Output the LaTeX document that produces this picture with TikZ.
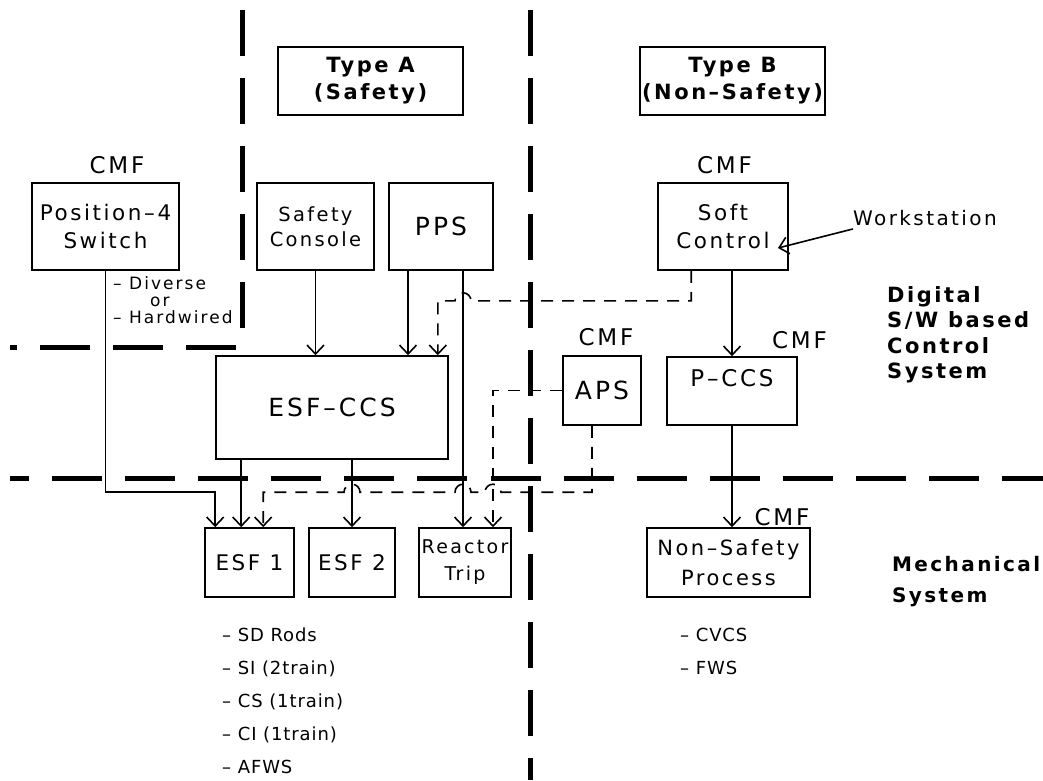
\documentclass[tikz,border=0pt]{standalone}
\usepackage{fontspec}
\setmainfont{DejaVu Sans}[LetterSpace=12]
\newfontfamily\listfont{DejaVu Sans}[LetterSpace=5]
\usetikzlibrary{arrows.meta,calc}
\begin{document}
\begin{tikzpicture}[x=1pt,y=1pt,
  blk/.style={draw, line width=1.6pt, inner sep=0pt, align=center},
  conn/.style={line width=1.6pt},
  arr/.style={conn, -{Straight Barb[length=9pt,width=17pt]}},
  dsh/.style={dash pattern=on 12pt off 9pt},
  hv/.style={line width=5pt, dash pattern=on 46pt off 22pt},
  hh/.style={line width=5pt, dash pattern=on 50pt off 23.08pt},
  lbl/.style={inner sep=0pt},
  fa/.style={font=\fontsize{21.5}{28}\selectfont},
  fb/.style={font=\fontsize{23}{28}\selectfont},
  fc/.style={font=\fontsize{25}{28}\selectfont},
  ftitle/.style={font=\bfseries\fontsize{21}{27}\selectfont},
  flist/.style={font=\listfont\fontsize{18}{33}\selectfont},
]
\fill[white] (0,0) rectangle (1043,-780);
\useasboundingbox (0,0) rectangle (1043,-780);

% heavy division lines
\draw[hv] (242,-10) -- (242,-331);
\draw[hv] (530,-10) -- (530,-780);
\draw[hh, dash phase=43pt] (10,-347) -- (237.5,-347);
\draw[hh, dash phase=31pt] (10,-478) -- (1043,-478);

% titles
\node[blk, minimum width=185pt, minimum height=68pt, ftitle] (typeA) at (370.5,-81) {Type A\\(Safety)};
\node[blk, minimum width=185pt, minimum height=68pt, ftitle] (typeB) at (732.5,-81) {Type B\\(Non–Safety)};

% upper row
\node[lbl, fb] (cmf1) at (117,-165.5) {CMF};
\node[blk, minimum width=147pt, minimum height=87pt, fa] (psw) at (105.5,-226.5) {Position–4\\Switch};
\node[blk, minimum width=117pt, minimum height=87pt, font=\fontsize{19.5}{25}\selectfont] (ssc) at (315.5,-226.5) {Safety\\Console};
\node[blk, minimum width=104pt, minimum height=87pt, fc] (pps) at (441,-226.5) {PPS};
\node[lbl, fb] (cmf2) at (724.5,-165.5) {CMF};
\node[blk, minimum width=130pt, minimum height=87pt, fa] (soft) at (723,-226.5) {Soft\\Control};
\node[lbl, anchor=west, font=\fontsize{20}{20}\selectfont] (ws) at (853,-218) {Workstation};
\coordinate (wsend) at (778,-248);

% middle row
\node[blk, minimum width=232pt, minimum height=103pt, fc] (esfccs) at (332,-407.5) {ESF–CCS};
\node[lbl, fb] (cmf3) at (606,-337.5) {CMF};
\node[blk, minimum width=78pt, minimum height=69pt, fc] (aps) at (602,-390.5) {APS};
\node[lbl, fb] (cmf4) at (799.5,-340) {CMF};
\node[blk, minimum width=130pt, minimum height=68pt, fb, text depth=26pt] (pccs) at (732,-391) {P–CCS};

% lower row
\node[blk, minimum width=89pt, minimum height=69pt, fa] (esf1) at (249.5,-562.5) {ESF 1};
\node[blk, minimum width=86pt, minimum height=69pt, fa] (esf2) at (352,-562.5) {ESF 2};
\node[blk, minimum width=92pt, minimum height=69pt, font=\fontsize{19}{27}\selectfont] (rt) at (465,-562.5) {Reactor\\Trip};
\node[lbl, fb] (cmf5) at (782,-517.5) {CMF};
\node[blk, minimum width=163pt, minimum height=69pt, font=\fontsize{21}{30}\selectfont] (nsp) at (728.5,-562.5) {Non–Safety\\Process};

% side texts
\node[lbl, anchor=north west, align=left, font=\bfseries\fontsize{21}{25.5}\selectfont] (dig) at (887,-286) {Digital\\S/W based\\Control\\System};
\node[lbl, anchor=north west, align=left, font=\bfseries\fontsize{20}{31}\selectfont] (mech) at (892,-556) {Mechanical\\System};
\node[lbl, anchor=north west, align=left, font=\fontsize{17}{17}\selectfont] (div) at (113,-276) {– Diverse\\\hspace*{37pt}or\\– Hardwired};
\node[lbl, anchor=north west, align=left, flist] (list1) at (222,-628) {– SD Rods\\– SI (2train)\\– CS (1train)\\– CI (1train)\\– AFWS};
\node[lbl, anchor=north west, align=left, flist] (list2) at (680,-628) {– CVCS\\– FWS};

% connector points
\coordinate (e1a) at ([xshift=11pt]esf1.north west);
\coordinate (e1b) at ([xshift=37pt]esf1.north west);
\coordinate (e1c) at ([xshift=59pt]esf1.north west);
\coordinate (p1) at ([xshift=-33pt]pps.south);
\coordinate (p2) at ([xshift=22pt]pps.south);
\coordinate (rtd) at ([xshift=28pt]rt.north);
\coordinate (sd) at ([xshift=34pt]soft.south west);
\coordinate (sdb) at ($(sd)+(0,-30)$);
\coordinate (ed) at ([xshift=-11pt]esfccs.north east);
\coordinate (ad) at ([xshift=-10pt]aps.south);
\coordinate (hy) at ($(e1a)+(0,35)$);

% solid connectors
\draw[arr] (psw.south) |- (hy) -- (e1a);
\draw[arr] (esfccs.south -| e1b) -- (e1b);
\draw[arr] (esfccs.south -| esf2.north) -- (esf2.north);
\draw[arr] (ssc.south) -- (ssc.south |- esfccs.north);
\draw[arr] (p1) -- (p1 |- esfccs.north);
\draw[arr] (p2) -- (p2 |- rt.north);
\draw[arr] (pccs.north |- soft.south) -- (pccs.north);
\draw[arr] (pccs.south) -- (pccs.south |- nsp.north);
\draw[arr] ([yshift=-3pt]ws.south west) -- (wsend);

% dashed connectors
\draw[arr, dsh] (sd) -- (sdb) -- ($(p2 |- sdb)+(8,0)$)
  arc[start angle=0, end angle=180, radius=8pt] -- (ed |- sdb) -- (ed);
\draw[arr, dsh] (ad) -- (ad |- hy) -- ($(rtd |- hy)+(8,0)$)
  arc[start angle=0, end angle=180, radius=8pt] -- ($(p2 |- hy)+(8,0)$)
  arc[start angle=0, end angle=180, radius=8pt] -- ($(esf2.north |- hy)+(8,0)$)
  arc[start angle=0, end angle=180, radius=8pt] -- (e1c |- hy) -- (e1c);
\draw[arr, dsh] (aps.west) -- (rtd |- aps.west) -- (rtd);
\end{tikzpicture}
\end{document}
